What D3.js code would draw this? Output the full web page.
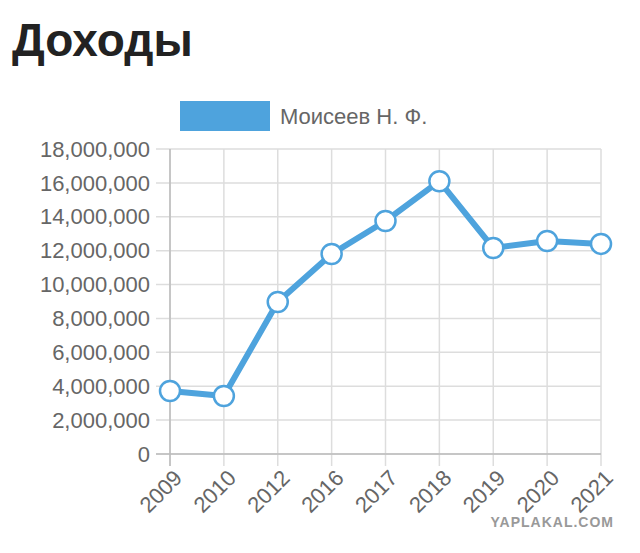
<!DOCTYPE html>
<html><head><meta charset="utf-8">
<script src="https://cdn.jsdelivr.net/npm/d3@7"></script>
<style>body{margin:0;background:#fff}</style></head>
<body><svg id="c" width="640" height="553"></svg>
<script>
const years = ["2009","2010","2012","2016","2017","2018","2019","2020","2021"];
const incomes = [3720000,3420000,8970000,11800000,13750000,16100000,12160000,12570000,12400000];
const yTicks = [0,2000000,4000000,6000000,8000000,10000000,12000000,14000000,16000000,18000000];
const seriesName = "Моисеев Н. Ф.";
const title = "Доходы";
const watermark = "YAPLAKAL.COM";

const svg = d3.select("#c");
const font = "'Liberation Sans', Arial, sans-serif";
const L=170,R=601,T=149,B=454;
const x = d3.scalePoint().domain(years).range([L,R]);
const y = d3.scaleLinear().domain([0,18000000]).range([B,T]);
const blue="#4ea3dd";

svg.append("text").attr("x",12).attr("y",56).attr("font-family",font).attr("font-size",46)
  .attr("font-weight","bold").attr("fill","#222").text(title);

svg.append("g").selectAll("line").data(yTicks).join("line")
  .attr("x1",L-14).attr("x2",R).attr("y1",d=>y(d)).attr("y2",d=>y(d))
  .attr("stroke","#ddd").attr("stroke-width",1.5);
svg.append("g").selectAll("line").data(years).join("line")
  .attr("x1",d=>x(d)).attr("x2",d=>x(d)).attr("y1",T).attr("y2",B+12)
  .attr("stroke","#ddd").attr("stroke-width",1.5);
svg.append("line").attr("x1",L).attr("x2",L).attr("y1",T).attr("y2",B+12).attr("stroke","#bbb").attr("stroke-width",1.5);
svg.append("line").attr("x1",L-14).attr("x2",R).attr("y1",B).attr("y2",B).attr("stroke","#bbb").attr("stroke-width",1.5);

const fmt = d3.format(",");
svg.append("g").selectAll("text").data(yTicks).join("text")
  .attr("x",L-20).attr("y",d=>y(d)).attr("dy","0.35em").attr("text-anchor","end")
  .attr("font-family",font).attr("font-size",22).attr("fill","#666").text(d=>fmt(d));

svg.append("g").selectAll("text").data(years).join("text")
  .attr("transform",d=>`translate(${x(d)+8},${B+20}) rotate(-45)`)
  .attr("text-anchor","end").attr("dy","0.35em")
  .attr("font-family",font).attr("font-size",22).attr("fill","#666").text(d=>d);

svg.append("rect").attr("x",180).attr("y",101).attr("width",90).attr("height",30).attr("fill",blue);
svg.append("text").attr("x",280).attr("y",116).attr("dy","0.35em").attr("font-family",font)
  .attr("font-size",22).attr("fill","#666").text(seriesName);

const line = d3.line().x((d,i)=>x(years[i])).y(d=>y(d));
svg.append("path").datum(incomes).attr("d",line).attr("fill","none")
  .attr("stroke",blue).attr("stroke-width",6).attr("stroke-linejoin","round");
svg.append("g").selectAll("circle").data(incomes).join("circle")
  .attr("cx",(d,i)=>x(years[i])).attr("cy",d=>y(d)).attr("r",10)
  .attr("fill","#fff").attr("stroke",blue).attr("stroke-width",2.5);

svg.append("text").attr("x",614).attr("y",527).attr("text-anchor","end").attr("font-family",font)
  .attr("font-weight","bold").attr("font-size",14).attr("fill","#999").attr("letter-spacing",1).text(watermark);
</script></body></html>
